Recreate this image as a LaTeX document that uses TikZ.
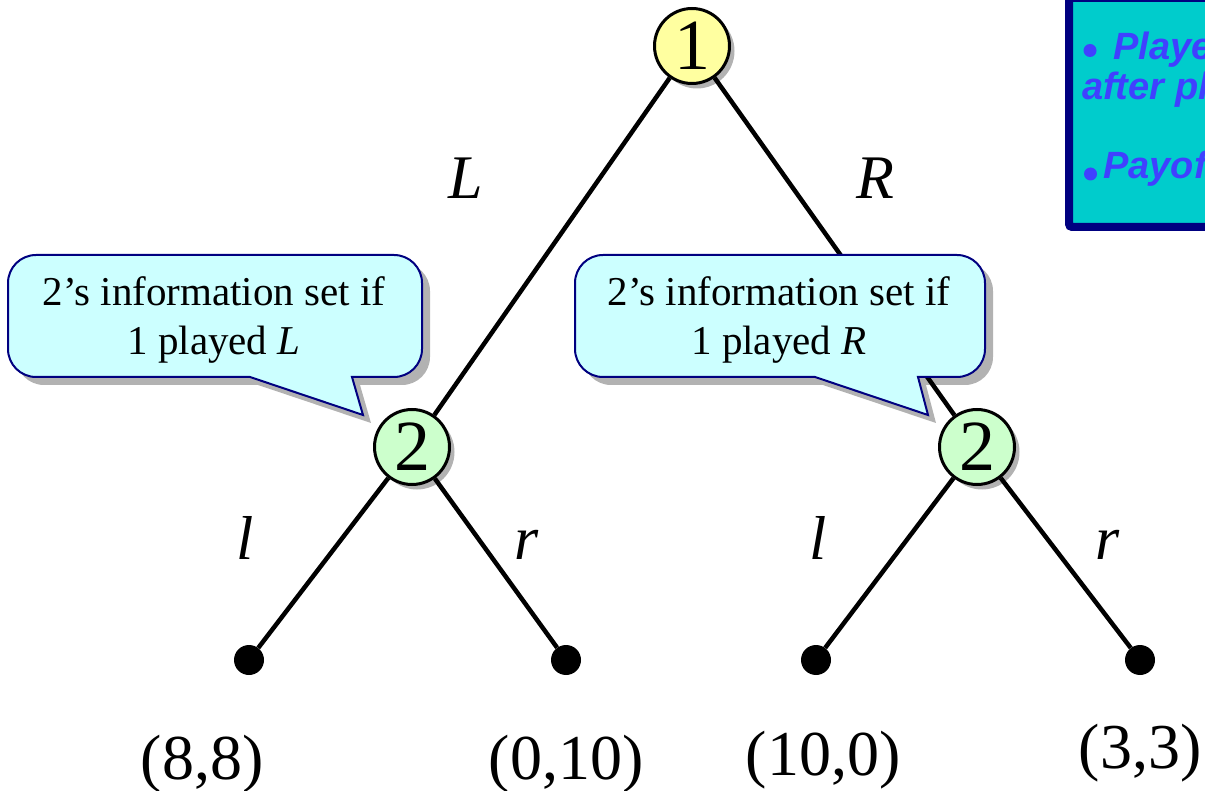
\documentclass[tikz,border=0pt]{standalone}
\usepackage{fontspec}
\setmainfont{Liberation Serif}
\newfontfamily\arialfont{Liberation Sans}
\usetikzlibrary{shadows}
\definecolor{pone}{RGB}{255,255,160}
\definecolor{ptwo}{RGB}{204,255,204}
\definecolor{calfill}{RGB}{204,255,255}
\definecolor{calborder}{RGB}{0,0,128}
\definecolor{boxfill}{RGB}{0,204,204}
\definecolor{boxborder}{RGB}{0,0,128}
\definecolor{boxtext}{RGB}{64,64,255}
\begin{document}
\begin{tikzpicture}[x=1pt,y=-1pt,
  player/.style={circle, draw=black, line width=3pt, minimum size=75pt, inner sep=0pt,
    font=\fontsize{72}{72}\selectfont,
    drop shadow={shadow xshift=5pt, shadow yshift=-5pt, opacity=0.3, fill=black}},
  leaf/.style={circle, fill=black, minimum size=30pt, inner sep=0pt},
  edge/.style={line width=4.5pt},
  lbl/.style={font=\fontsize{62}{62}\selectfont\itshape, anchor=base, inner sep=0pt},
  pay/.style={font=\fontsize{64}{64}\selectfont, anchor=base, inner sep=0pt},
  callout/.style={fill=calfill, draw=calborder, line width=2pt,
    drop shadow={shadow xshift=8pt, shadow yshift=-8pt, opacity=0.3, fill=black}},
  ctext/.style={font=\fontsize{41}{49}\selectfont, align=center, inner sep=0pt},
  btext/.style={font=\arialfont\bfseries\itshape\fontsize{38}{40}\selectfont, text=boxtext, anchor=base west, inner sep=0pt},
  bdot/.style={fill=boxtext}
]
\useasboundingbox (0,0) rectangle (1205,791);

% player nodes
\node[player, fill=pone] (n1) at (692,46) {1};
\node[player, fill=ptwo] (n2a) at (412,447) {2};
\node[player, fill=ptwo] (n2b) at (977,447) {2};

% terminal nodes
\node[leaf] (t1) at (249,660) {};
\node[leaf] (t2) at (566,660) {};
\node[leaf] (t3) at (816,660) {};
\node[leaf] (t4) at (1140,660) {};

% edges
\draw[edge] (n1) -- (n2a);
\draw[edge] (n1) -- (n2b);
\draw[edge] (n2a) -- (t1);
\draw[edge] (n2a) -- (t2);
\draw[edge] (n2b) -- (t3);
\draw[edge] (n2b) -- (t4);

% action labels
\node[lbl] (lL) at (466,199) {L};
\node[lbl] (lR) at (875,199) {R};
\node[lbl] (la) at (245,559) {l};
\node[lbl] (ra) at (527,559) {r};
\node[lbl] (lb) at (818,559) {l};
\node[lbl] (rb) at (1108,559) {r};

% payoffs
\node[pay] (p1) at (202,779) {(8,8)};
\node[pay] (p2) at (566,779) {(0,10)};
\node[pay] (p3) at (823,775) {(10,0)};
\node[pay] (p4) at (1140,768) {(3,3)};

% callouts
\path[callout] (100,377) [sharp corners] -- (250,377) -- (363,415) -- (352,377) -- (380,377)
  [rounded corners=28] -- (422,377) -- (422,255) -- (8,255) -- (8,377) -- cycle;
\node[ctext] (c1) at (214,320) {2’s information set if\\1 played \textit{L}};

\path[callout] (660,377) [sharp corners] -- (815,377) -- (928,415) -- (918,377) -- (940,377)
  [rounded corners=28] -- (985,377) -- (985,255) -- (575,255) -- (575,377) -- cycle;
\node[ctext] (c2) at (779,320) {2’s information set if\\1 played \textit{R}};

% top-right box (cut off by the frame)
\begin{scope}
\clip (0,0) rectangle (1205,791);
\draw[fill=boxfill, draw=boxborder, line width=8pt, rounded corners=3pt] (1069,-2) rectangle (1240,227);
\fill[bdot] (1090,50.5) circle (6.5);
\node[btext] (b1) at (1113,60) {Player};
\node[btext] (b2) at (1082,100) {after pla};
\fill[bdot] (1090.5,174) circle (6.5);
\node[btext] (b3) at (1103,179) {Payoff};
\end{scope}
\end{tikzpicture}
\end{document}
